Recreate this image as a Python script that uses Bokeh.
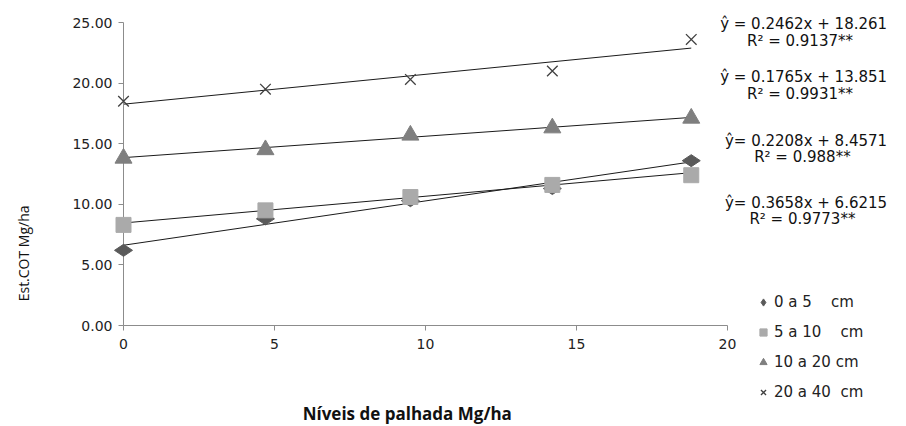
import math
from bokeh.plotting import figure
from bokeh.models import (Legend, LegendItem, NumeralTickFormatter,
                          FixedTicker, Range1d)
from bokeh.core.properties import value
from bokeh.embed import file_html
from bokeh.resources import INLINE

# ---- data ----
palhada = [0, 4.7, 9.5, 14.2, 18.8]
series_names = ["0 a 5    cm", "5 a 10    cm", "10 a 20 cm", "20 a 40  cm"]
cot_0_5 = [6.2, 8.8, 10.3, 11.3, 13.6]
cot_5_10 = [8.3, 9.5, 10.6, 11.6, 12.4]
cot_10_20 = [13.8, 14.5, 15.7, 16.3, 17.1]
cot_20_40 = [18.5, 19.5, 20.3, 21.0, 23.6]
slopes = [0.3658, 0.2208, 0.1765, 0.2462]
intercepts = [6.6215, 8.4571, 13.851, 18.261]
r2 = ["0.9773", "0.988", "0.9931", "0.9137"]
eq_sep = ["= ", "= ", " = ", " = "]
x_ticks = [0, 5, 10, 15, 20]
y_ticks = [0, 5, 10, 15, 20, 25]

series = [cot_0_5, cot_5_10, cot_10_20, cot_20_40]
markers = ["diamond", "square", "triangle", "x"]
colors = ["#5a5a5a", "#aaaaaa", "#7f7f7f", "#404040"]
sizes = [18, 15, 17, 15]
angles = [math.pi / 2, 0, 0, 0]

FONT = "DejaVu Sans"

p = figure(frame_width=604, frame_height=303, output_backend="svg", toolbar_location=None,
           x_range=Range1d(0, 20), y_range=Range1d(0, 25),
           min_border_left=123, min_border_right=179, min_border_top=22,
           min_border_bottom=101)
p.outline_line_color = None
p.grid.visible = False
p.background_fill_color = "white"

# axes
p.xaxis.ticker = FixedTicker(ticks=x_ticks)
p.yaxis.ticker = FixedTicker(ticks=y_ticks)
p.yaxis.formatter = NumeralTickFormatter(format="0.00")
for ax in (p.xaxis[0], p.yaxis[0]):
    ax.axis_line_color = "#8c8c8c"
    ax.major_tick_line_color = "#8c8c8c"
    ax.major_tick_out = 5
    ax.major_tick_in = 0
    ax.minor_tick_line_color = None
    ax.major_label_text_font = FONT
    ax.major_label_text_font_size = "14px"
    ax.major_label_text_color = "#222222"
p.xaxis.major_label_standoff = 8
p.yaxis.major_label_standoff = 6

items = []
xmin, xmax = min(palhada), max(palhada)
for i, ys in enumerate(series):
    # trend line from regression coefficients
    p.line([xmin, xmax], [intercepts[i] + slopes[i] * xmin, intercepts[i] + slopes[i] * xmax],
           line_color="#1a1a1a", line_width=1)
for i, ys in enumerate(series):
    if markers[i] == "x":
        r = p.scatter(palhada, ys, marker="x", size=sizes[i], line_color=colors[i],
                      line_width=1.3, level="overlay")
    else:
        r = p.scatter(palhada, ys, marker=markers[i], size=sizes[i], angle=angles[i],
                      fill_color=colors[i], line_color=colors[i], level="overlay")
    items.append(LegendItem(label=series_names[i], renderers=[r]))

legend = Legend(items=items, location=(27, -77), background_fill_alpha=0,
                border_line_color=None, label_text_font=FONT,
                label_text_font_size="15px", label_text_color="#222222",
                glyph_width=18, glyph_height=20, label_height=16, spacing=10,
                padding=0, margin=0, label_standoff=2)
p.add_layout(legend, "right")

# regression equations (top to bottom: 20-40, 10-20, 5-10, 0-5), placed by layout
eq_order = [3, 2, 1, 0]
eq_x = [22.52, 22.52, 22.6, 22.6]
eq_y = [24.89, 20.49, 15.26, 10.09]
r2_y = [23.51, 19.12, 13.89, 8.80]
tx, ty, tt = [], [], []
for k, idx in enumerate(eq_order):
    tx += [eq_x[k], eq_x[k] - 0.12]
    ty += [eq_y[k], r2_y[k]]
    tt += [f"ŷ{eq_sep[idx]}{slopes[idx]}x + {intercepts[idx]}", f"R² = {r2[idx]}**"]
p.text(tx, ty, text=tt, text_font=value(FONT), text_font_size="15px",
       text_align="center", text_baseline="middle", text_color="#111111",
       level="overlay")

# axis titles (positioned as in the reference)
p.text([9.47], [-7.3], text=["Níveis de palhada  Mg/ha"], text_font=value("Open Sans"),
       text_font_style="bold", text_font_size="17px", text_align="center",
       text_baseline="middle", text_color="#111111", level="overlay")
p.text([-3.31], [6.1], text=["Est.COT  Mg/ha"], text_font=value("Open Sans"),
       text_font_size="14px", text_align="center", angle=math.pi / 2,
       text_baseline="middle", text_color="#111111", level="overlay")

open("out.html", "w").write(file_html(p, INLINE))
